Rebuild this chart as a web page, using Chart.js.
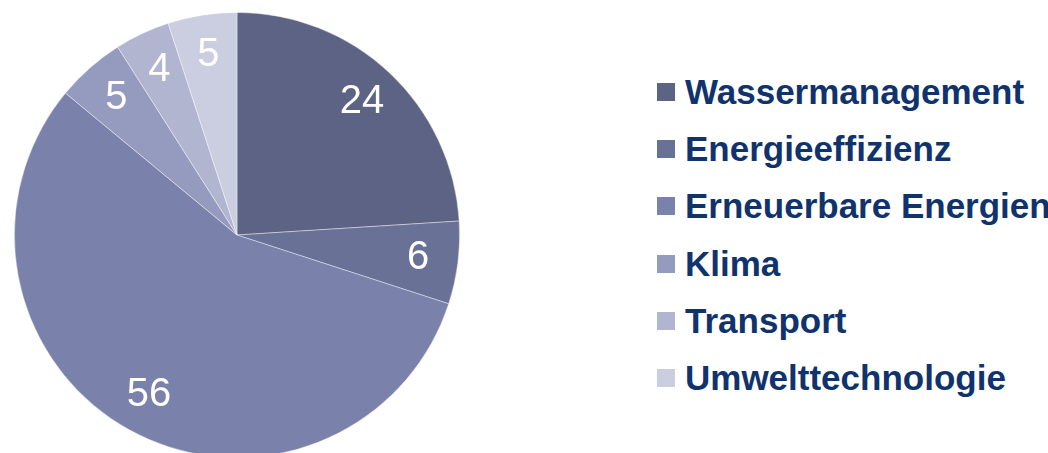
<!DOCTYPE html>
<html lang="de">

<head>
    <meta charset="UTF-8">
    <title>Projekte nach Bereich</title>
    <script src="https://cdn.jsdelivr.net/npm/chart.js"></script>
    <style>
        html, body {
            margin: 0;
            padding: 0;
            background: #ffffff;
            overflow: hidden;
            width: 1048px;
            height: 453px;
        }

        #pie {
            position: absolute;
            left: 14px;
            top: 12px;
            width: 446px;
            height: 446px;
        }

        #legend {
            position: absolute;
            left: 657px;
            top: 63px;
            font-family: "Liberation Sans", Arial, sans-serif;
            font-weight: bold;
            font-size: 35px;
            color: #10336e;
        }

        .legend__row {
            display: flex;
            align-items: center;
            height: 57.3px;
            white-space: nowrap;
        }

        .legend__box {
            width: 18px;
            height: 18px;
            margin-right: 10px;
            flex: none;
        }
    </style>
</head>

<body>
    <div id="pie">
        <canvas id="myChart"></canvas>
    </div>
    <div id="legend"></div>

    <script>
        // Daten
        const labels = ['Wassermanagement', 'Energieeffizienz', 'Erneuerbare Energien', 'Klima', 'Transport', 'Umwelttechnologie'];
        const values = [24, 6, 56, 5, 4, 5];
        const colors = ['#5c6384', '#6a7196', '#7a82ac', '#959bbe', '#b1b5cf', '#cbcee0'];

        // Zahlen in die Segmente schreiben
        const valueLabels = {
            id: 'valueLabels',
            afterDatasetsDraw(chart) {
                const ctx = chart.ctx;
                const meta = chart.getDatasetMeta(0);
                ctx.save();
                ctx.fillStyle = '#ffffff';
                ctx.font = '40px "Liberation Sans", Arial, sans-serif';
                ctx.textAlign = 'center';
                ctx.textBaseline = 'middle';
                meta.data.forEach(function (arc, i) {
                    const mid = (arc.startAngle + arc.endAngle) / 2;
                    const r = arc.outerRadius * 0.82;
                    ctx.fillText(values[i], arc.x + Math.cos(mid) * r, arc.y + Math.sin(mid) * r);
                });
                ctx.restore();
            }
        };

        new Chart(document.getElementById('myChart'), {
            type: 'pie',
            data: {
                labels: labels,
                datasets: [{
                    data: values,
                    backgroundColor: colors,
                    borderColor: 'rgba(255,255,255,0.5)',
                    borderWidth: 0.8,
                    hoverOffset: 0,
                    offset: 0
                }]
            },
            options: {
                responsive: true,
                maintainAspectRatio: false,
                animation: false,
                events: [],
                layout: { padding: 0 },
                plugins: {
                    legend: { display: false },
                    tooltip: { enabled: false }
                }
            },
            plugins: [valueLabels]
        });

        // Legende rechts
        const legend = document.getElementById('legend');
        labels.forEach(function (label, i) {
            const row = document.createElement('div');
            row.className = 'legend__row';
            const box = document.createElement('span');
            box.className = 'legend__box';
            box.style.background = colors[i];
            const text = document.createElement('span');
            text.textContent = label;
            row.appendChild(box);
            row.appendChild(text);
            legend.appendChild(row);
        });
    </script>
</body>

</html>
